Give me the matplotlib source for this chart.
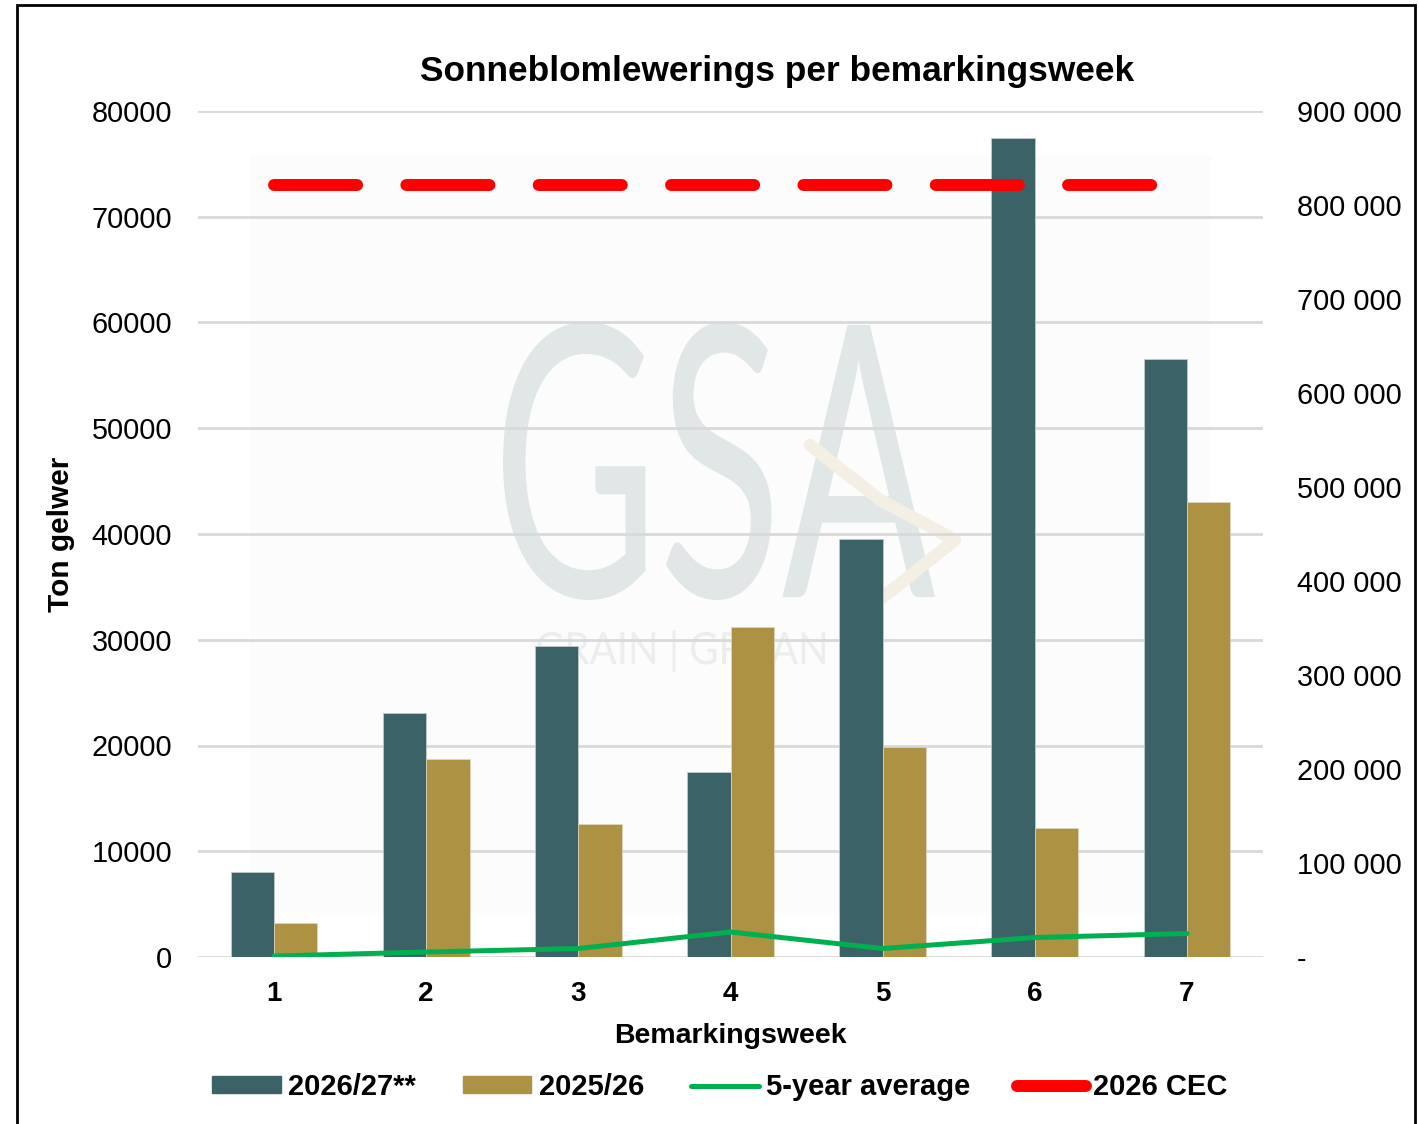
import numpy as np
import matplotlib.pyplot as plt
from matplotlib.lines import Line2D
from matplotlib.patches import Patch, Rectangle, PathPatch
from matplotlib.textpath import TextPath
from matplotlib.font_manager import FontProperties
from matplotlib.transforms import Affine2D, IdentityTransform
from matplotlib.ticker import FuncFormatter

plt.rcParams['font.family'] = ['Liberation Sans', 'DejaVu Sans']

# Data
weeks = ['1', '2', '3', '4', '5', '6', '7']
season_2026 = [8040, 23070, 29410, 17490, 39530, 77450, 56550]
season_2025 = [3220, 18720, 12580, 31210, 19860, 12200, 43030]
five_year_avg = [1000, 5300, 9000, 26600, 9000, 20700, 25000]   # right axis
cec_2026 = 821000                                                  # right axis

c_dark = '#3b6267'
c_gold = '#ad9243'
c_green = '#00b050'
c_red = '#ff0000'
c_grid = '#d9d9d9'

W, H = 1419, 1124
fig = plt.figure(figsize=(W / 100, H / 100), dpi=100)
ax = fig.add_axes([198 / W, 1 - 957 / H, (1263 - 198) / W, (957 - 111) / H])
ax2 = ax.twinx()

x = np.arange(len(weeks))
w = 0.285


def watermark_text(s, x0, x1, ytop, ybot, color, weight='normal'):
    # text squeezed into a pixel box (image coords from top-left)
    tp = TextPath((0, 0), s, size=1, prop=FontProperties(family='Lato', weight=weight))
    bb = tp.get_extents()
    tr = (Affine2D().translate(-bb.x0, -bb.y0)
          .scale((x1 - x0) / bb.width, (ybot - ytop) / bb.height)
          .translate(x0, H - ybot))
    fig.add_artist(PathPatch(tr.transform_path(tp), transform=IdentityTransform(),
                             facecolor=color, edgecolor='none', zorder=-1))


# faint watermark background + logo (behind the axes)
fig.add_artist(Rectangle((250, H - 915), 961, 760, transform=IdentityTransform(),
                         facecolor='#fcfcfc', edgecolor='none', zorder=-2))
watermark_text('GSA', 503, 935, 322, 600, '#e1e6e6')
watermark_text('GRAIN | GRAAN', 537, 825, 630, 672, '#eceeee')
chev = Line2D([810, 880, 955, 848], [H - 445, H - 500, H - 540, H - 625],
              transform=IdentityTransform(), color='#f3efe4', lw=9,
              solid_capstyle='round', solid_joinstyle='round', zorder=-0.5)
fig.add_artist(chev)
ax.patch.set_visible(False)
ax2.patch.set_visible(False)

ax.bar(x - w / 2, season_2026, w, color=c_dark, edgecolor='#c8cfcf', linewidth=0.5, zorder=3)
ax.bar(x + w / 2, season_2025, w, color=c_gold, edgecolor='#e0d8c0', linewidth=0.5, zorder=3)

ax2.plot(x, five_year_avg, color=c_green, lw=3.6, solid_capstyle='round', zorder=4)
ax2.plot([x[0], x[-1]], [cec_2026, cec_2026], color=c_red, lw=8.6,
         dashes=(6.96, 4.12), dash_capstyle='round', zorder=4)

ax.set_ylim(0, 80000)
ax.set_yticks(np.arange(0, 80001, 10000))
ax2.set_ylim(0, 900000)
ax2.set_yticks(np.arange(0, 900001, 100000))
ax2.yaxis.set_major_formatter(FuncFormatter(
    lambda v, p: '-' if v == 0 else f'{int(v):,}'.replace(',', ' ')))
ax.set_xlim(-0.5, 6.5)
ax.set_xticks(x)
ax.set_xticklabels(weeks, fontweight='bold')

ax.grid(axis='y', color=c_grid, lw=2, zorder=1)
ax.set_axisbelow(True)
for a in (ax, ax2):
    for s in a.spines.values():
        s.set_visible(False)
ax.tick_params(axis='y', length=0, labelsize=20.8, pad=18.7)
ax.tick_params(axis='x', length=0, labelsize=20, pad=17)
ax2.tick_params(axis='y', length=0, labelsize=20.8, pad=24.5)
for t in ax2.get_yticklabels():
    t.set_ha('left')

ax.set_xlabel('Bemarkingsweek', fontsize=20.5, fontweight='bold', labelpad=12)
ax.set_ylabel('Ton gelwer', fontsize=21.5, fontweight='bold', labelpad=12)
fig.text(777 / W, 1 - 72 / H, 'Sonneblomlewerings per bemarkingsweek',
         ha='center', va='center', fontsize=25.4, fontweight='bold')

handles = [Patch(color=c_dark), Patch(color=c_gold),
           Line2D([], [], color=c_green, lw=3.6, solid_capstyle='round'),
           Line2D([], [], color=c_red, lw=8.6, solid_capstyle='round')]
labels = ['2026/27**', '2025/26', '5-year average', '2026 CEC']
fig.legend(handles, labels, loc='center', bbox_to_anchor=(720 / W, 1 - 1087 / H),
           ncol=4, frameon=False, prop={'size': 21, 'weight': 'bold'},
           handlelength=2.35, handleheight=0.5, handletextpad=0.25, columnspacing=1.6)

# outer frame
fig.add_artist(Rectangle((17 / W, -0.01), (1415 - 17) / W, 1.01 - 5 / H,
                         transform=fig.transFigure, fill=False, edgecolor='black', lw=2))

fig.savefig('out.png', dpi=100)
